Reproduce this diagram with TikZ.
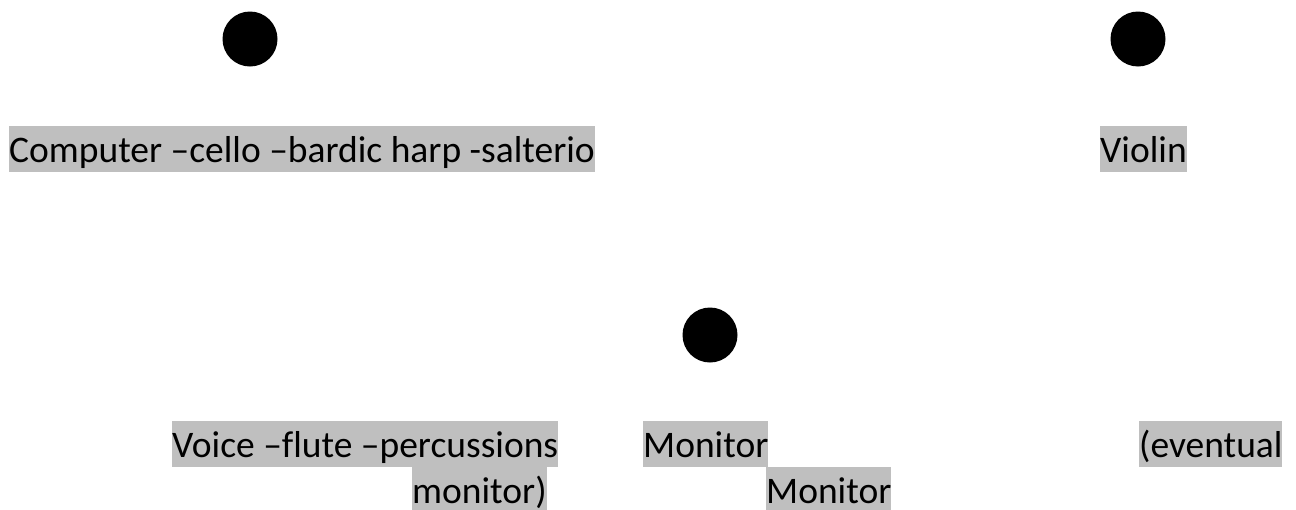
\documentclass[tikz,border=0pt]{standalone}
\usepackage{fontspec}
\setmainfont{Carlito}[Ligatures=NoCommon]
\usepackage{tikz}
\usepackage{xcolor}
\definecolor{cHigh}{RGB}{191,191,191}
\tikzset{
  hlnode/.style={rectangle, fill=cHigh, inner sep=0pt, anchor=north west,
                 font=\fontsize{37.5pt}{46pt}\selectfont,
                 text height=35.9pt, text depth=10.1pt},
  dotnode/.style={circle, fill=black, minimum size=55pt, inner sep=0pt}
}
\begin{document}
\begin{tikzpicture}[x=1pt, y=-1pt]
  \useasboundingbox (0,0) rectangle (1296,509);

  \node[dotnode] (dot_l) at (250,39) {};
  \node[dotnode] (dot_r) at (1138,39) {};
  \node[dotnode] (dot_m) at (710,335) {};

  \node[hlnode] (comp_t) at (9,126) {Computer –cello –bardic harp -salterio};
  \node[hlnode] (violin_t) at (1100,126) {Violin};

  \node[hlnode] (voice_t) at (172,421) {Voice –flute –percussions};
  \node[hlnode] (mon_a) at (643,421) {Monitor};
  \node[hlnode] (event_t) at (1139,421) {(eventual};
  \node[hlnode] (montr_t) at (412,467) {monitor)};
  \node[hlnode] (mon_b) at (766,467) {Monitor};
\end{tikzpicture}
\end{document}
